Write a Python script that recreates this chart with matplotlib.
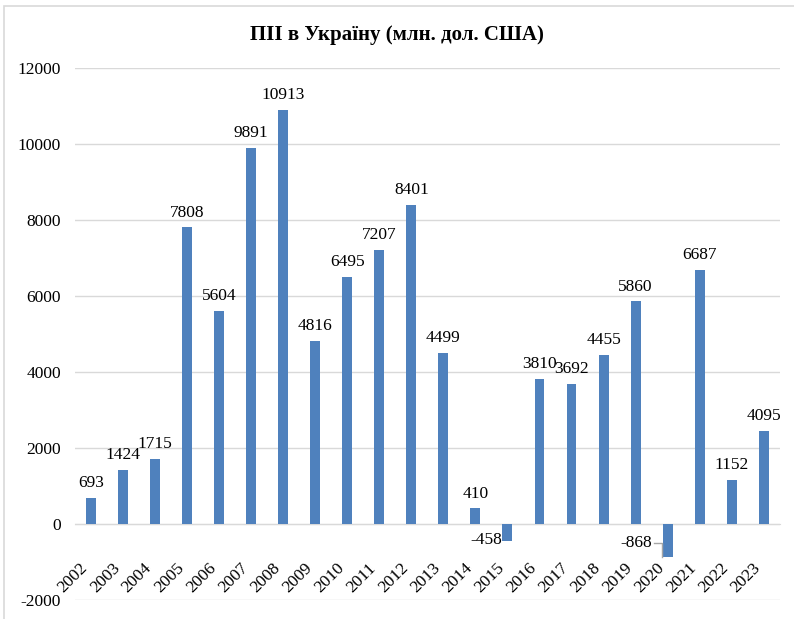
import matplotlib
matplotlib.use("Agg")
import matplotlib.pyplot as plt
from matplotlib.patches import Rectangle

# Data
years = ["2002", "2003", "2004", "2005", "2006", "2007", "2008", "2009", "2010", "2011", "2012",
         "2013", "2014", "2015", "2016", "2017", "2018", "2019", "2020", "2021", "2022", "2023"]
heights = [693, 1424, 1715, 7808, 5604, 9891, 10913, 4816, 6495, 7207, 8401,
           4499, 410, -458, 3810, 3692, 4455, 5860, -868, 6687, 1152, 2450]
labels = ["693", "1424", "1715", "7808", "5604", "9891", "10913", "4816", "6495", "7207", "8401",
          "4499", "410", "-458", "3810", "3692", "4455", "5860", "-868", "6687", "1152", "4095"]
title = "ПІІ в Україну (млн. дол. США)"

plt.rcParams['font.family'] = ['Liberation Serif', 'DejaVu Serif']
plt.rcParams['axes.unicode_minus'] = False

bar_color = "#4F81BD"
grid_color = "#D9D9D9"

fig = plt.figure(figsize=(7.94, 6.19), dpi=100)
ax = fig.add_axes([0.0945, 0.0307, 0.8875, 0.859])

# chart border (only top and left visible in the reference)
fig.patches.append(Rectangle((4 / 794, -0.05), 1.1, 1.05 - 6 / 619, transform=fig.transFigure,
                             fill=False, edgecolor=grid_color, linewidth=1.2))

x = list(range(len(years)))
ax.bar(x, heights, width=0.31, color=bar_color, zorder=3)

ax.set_xlim(-0.5, len(years) - 0.5)
ax.set_ylim(-2000, 12000)
ax.set_yticks(range(-2000, 12001, 2000))
ax.yaxis.grid(True, color=grid_color, linewidth=1)
ax.set_axisbelow(True)

for s in ["top", "right", "left"]:
    ax.spines[s].set_visible(False)
ax.spines["bottom"].set_position(("data", 0))
ax.spines["bottom"].set_color(grid_color)

ax.set_xticks(x)
ax.set_xticklabels(years, rotation=45, ha="right", va="top", fontsize=12.5)
ax.tick_params(axis="x", length=0, pad=26)
ax.tick_params(axis="y", length=0, pad=10, labelsize=12.5)

# value labels
for i, (h, lab) in enumerate(zip(heights, labels)):
    if h >= 0:
        ax.annotate(lab, (i, h), xytext=(0, 5), textcoords="offset points",
                    ha="center", va="bottom", fontsize=12.5)

# negative labels sit to the left of the bars
ax.annotate(labels[13], (13 - 0.16, -420), ha="right", va="center", fontsize=12.5)
ax.annotate(labels[18], (18 - 0.5, -500), ha="right", va="center", fontsize=12.5)
ax.plot([18 - 0.43, 18 - 0.16, 18 - 0.16], [-500, -500, -860], color="#A6A6A6", linewidth=1, zorder=4)

fig.text(0.5, 0.943, title, ha="center", va="center", fontsize=15, fontweight="bold")

fig.savefig("out.png", dpi=100)
